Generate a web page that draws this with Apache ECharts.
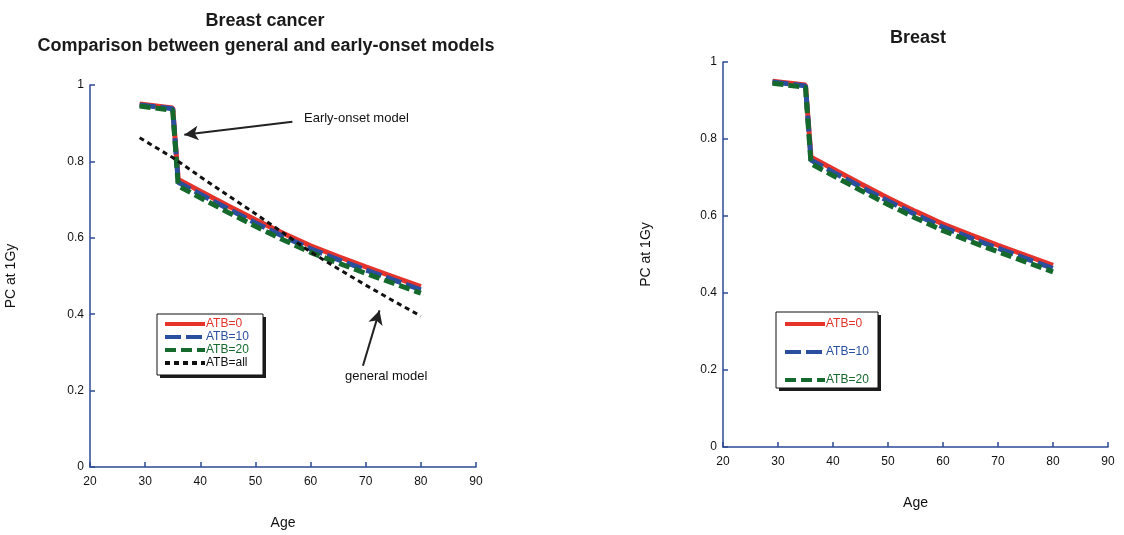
<!DOCTYPE html>
<html>
<head>
<meta charset="utf-8">
<script src="https://cdn.jsdelivr.net/npm/echarts@6/dist/echarts.min.js"></script>
<style>
html,body{margin:0;padding:0;background:#fff;}
#chart{width:1124px;height:535px;}
</style>
</head>
<body>
<div id="chart"></div>
<script>
// ---- data ----
const ages    = [29, 35, 36, 40, 45, 50, 55, 60, 65, 70, 75, 80];
const atb0    = [0.950, 0.940, 0.753, 0.722, 0.684, 0.647, 0.612, 0.579, 0.551, 0.524, 0.498, 0.472];
const atb10   = [0.948, 0.938, 0.745, 0.714, 0.676, 0.639, 0.604, 0.571, 0.543, 0.516, 0.490, 0.464];
const atb20   = [0.945, 0.934, 0.736, 0.705, 0.667, 0.630, 0.595, 0.562, 0.534, 0.507, 0.481, 0.455];
const genAges = [29, 35, 40, 45, 50, 55, 60, 65, 70, 75, 80];
const general = [0.862, 0.810, 0.760, 0.711, 0.663, 0.613, 0.563, 0.519, 0.476, 0.435, 0.395];
const xTicks  = [20, 30, 40, 50, 60, 70, 80, 90];
const yTicks  = [0, 0.2, 0.4, 0.6, 0.8, 1];
const seriesNames = ['ATB=0', 'ATB=10', 'ATB=20', 'ATB=all'];

const zip = (xs, ys) => xs.map((x, i) => [x, ys[i]]);

const RED = '#e5322b', BLUE = '#2a4f9f', GREEN = '#16692d', BLACK = '#111111';
const AXIS = '#2d4a94';
const FONT = '"Liberation Sans", Arial, sans-serif';

function xAxis(gi) {
  return {
    type: 'value', gridIndex: gi, min: 20, max: 90, interval: 10,
    name: 'Age', nameLocation: 'middle', nameGap: 49,
    nameTextStyle: {color: '#111', fontSize: 14, fontFamily: FONT},
    axisLine: {lineStyle: {color: AXIS, width: 1.5}},
    axisTick: {inside: true, length: 5, lineStyle: {color: AXIS, width: 1.5}},
    axisLabel: {color: '#111', fontSize: 12, fontFamily: FONT, margin: 9,
      formatter: v => xTicks.includes(v) ? String(v) : ''},
    splitLine: {show: false}
  };
}
function yAxis(gi, gap) {
  return {
    type: 'value', gridIndex: gi, min: 0, max: 1, interval: 0.2,
    name: 'PC at 1Gy', nameLocation: 'middle', nameGap: gap,
    nameTextStyle: {color: '#111', fontSize: 14, fontFamily: FONT},
    axisLine: {show: true, lineStyle: {color: AXIS, width: 1.5}},
    axisTick: {show: true, inside: true, length: 5, lineStyle: {color: AXIS, width: 1.5}},
    axisLabel: {color: '#111', fontSize: 12, fontFamily: FONT, margin: 6,
      formatter: v => { const t = yTicks.find(k => Math.abs(k - v) < 1e-9); return t === undefined ? '' : String(t); }},
    splitLine: {show: false}
  };
}

function atbSeries(gi) {
  return [
    {name: seriesNames[0], type: 'line', xAxisIndex: gi, yAxisIndex: gi, symbol: 'none',
      data: zip(ages, atb0), lineStyle: {color: RED, width: 5}, itemStyle: {color: RED}, z: 2},
    {name: seriesNames[1], type: 'line', xAxisIndex: gi, yAxisIndex: gi, symbol: 'none',
      data: zip(ages, atb10), lineStyle: {color: BLUE, width: 5, type: [16, 5]}, itemStyle: {color: BLUE}, z: 3},
    {name: seriesNames[2], type: 'line', xAxisIndex: gi, yAxisIndex: gi, symbol: 'none',
      data: zip(ages, atb20), lineStyle: {color: GREEN, width: 5, type: [11, 5]}, itemStyle: {color: GREEN}, z: 4}
  ];
}

function legend(left, top, names, gap) {
  const colors = {'ATB=0': RED, 'ATB=10': BLUE, 'ATB=20': GREEN, 'ATB=all': BLACK};
  return {
    orient: 'vertical', left: left, top: top, itemGap: gap,
    itemWidth: 40, itemHeight: 10,
    padding: 0, z: 10,
    lineStyle: {width: 4},
    itemStyle: {opacity: 0},
    selectedMode: false,
    textStyle: {fontSize: 12, fontFamily: FONT, padding: [0, 0, 0, -4]},
    data: names.map(n => ({name: n, textStyle: {color: colors[n]}}))
  };
}

function legendBox(x, y, w, h) {
  return [
    {type: 'rect', z: 8, silent: true, shape: {x: x + 3, y: y + 3, width: w, height: h},
      style: {fill: '#1c1c1c'}},
    {type: 'rect', z: 9, silent: true, shape: {x: x, y: y, width: w, height: h},
      style: {fill: '#fff', stroke: '#111', lineWidth: 1}}
  ];
}

const option = {
  animation: false,
  backgroundColor: '#fff',
  title: [
    {text: 'Breast cancer', left: 260, top: 7, textAlign: 'center',
      textStyle: {fontSize: 18, fontWeight: 'bold', color: '#1a1a1a', fontFamily: FONT}},
    {text: 'Comparison between general and early-onset models', left: 261, top: 32, textAlign: 'center',
      textStyle: {fontSize: 18, fontWeight: 'bold', color: '#1a1a1a', fontFamily: FONT}},
    {text: 'Breast', left: 913, top: 24, textAlign: 'center',
      textStyle: {fontSize: 18, fontWeight: 'bold', color: '#1a1a1a', fontFamily: FONT}}
  ],
  grid: [
    {left: 90, right: 648, top: 85, bottom: 65},
    {left: 723, right: 16, top: 62, bottom: 88}
  ],
  xAxis: [xAxis(0), xAxis(1)],
  yAxis: [yAxis(0, 72), yAxis(1, 70)],
  legend: [
    legend(163, 318, seriesNames, 1),
    legend(783, 318, seriesNames.slice(0, 3), 16)
  ],
  series: [
    ...atbSeries(0),
    {name: seriesNames[3], type: 'line', xAxisIndex: 0, yAxisIndex: 0, symbol: 'none',
      data: zip(genAges, general), lineStyle: {color: BLACK, width: 3, type: [5, 4]}, itemStyle: {color: BLACK}, z: 5,
      markLine: {
        silent: true, symbol: ['none', 'arrow'], symbolSize: [11, 14],
        label: {show: false},
        lineStyle: {color: '#222', width: 2, type: 'solid'},
        data: [
          [{coord: [56.7, 0.904]}, {coord: [37.1, 0.870]}],
          [{coord: [69.5, 0.265]}, {coord: [72.5, 0.410]}]
        ]
      }},
    ...atbSeries(1)
  ],
  graphic: [
    ...legendBox(157, 314, 106, 61),
    ...legendBox(776, 312, 102, 76),
    {type: 'text', left: 304, top: 112, style: {text: 'Early-onset model', fontSize: 13, fontFamily: FONT, fill: '#111'}},
    {type: 'text', left: 345, top: 370, style: {text: 'general model', fontSize: 13, fontFamily: FONT, fill: '#111'}}
  ]
};

const chart = echarts.init(document.getElementById('chart'), null, {renderer: 'canvas'});
chart.setOption(option);
</script>
</body>
</html>
